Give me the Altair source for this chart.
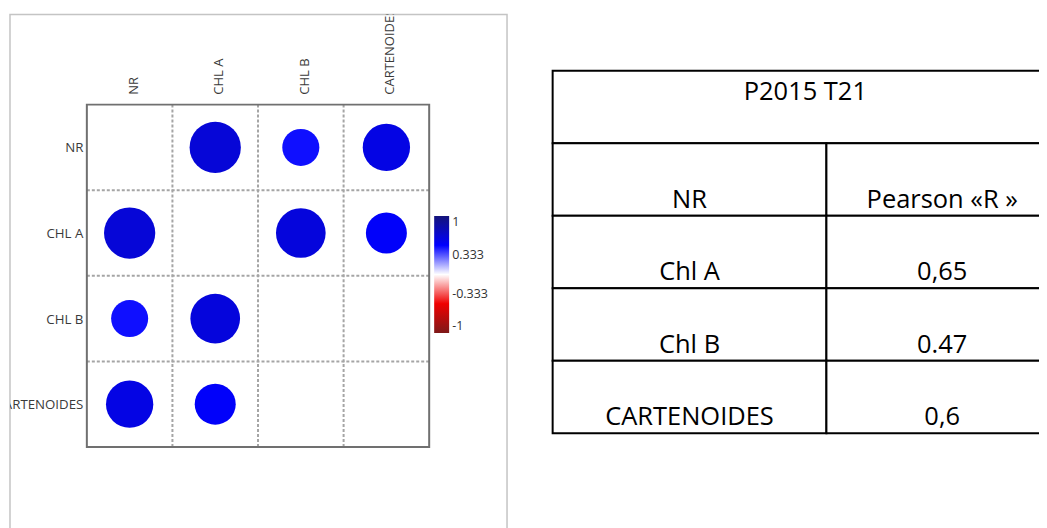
import altair as alt
import pandas as pd

# ---------------- data ----------------
variables = ["NR", "CHL A", "CHL B", "CARTENOIDES"]
corr_rows = [
    [None, 0.65, 0.47, 0.60],
    [0.65, None, 0.63, 0.52],
    [0.47, 0.63, None, None],
    [0.60, 0.52, None, None],
]
legend_values = [1, 0.333, -0.333, -1]

table_title = "P2015 T21"
table_header = ["NR", "Pearson «R »"]
table_vars = ["Chl A", "Chl B", "CARTENOIDES"]
table_r = ["0,65", "0.47", "0,6"]

# ---------------- layout constants ----------------
FONT = "Open Sans"
n = len(variables)
W_L, H_L = 498, 522
CELL = 85.75
GX, GY = 77, 90.3
x_scale = alt.Scale(domain=[-GX / CELL, (W_L - GX) / CELL], nice=False, zero=False)
y_scale = alt.Scale(domain=[-GY / CELL, (H_L - GY) / CELL], nice=False, zero=False, reverse=True)

W_T, H_T = 492, 522
ROW_H = 72.65
COL_W = 274.3
TX, TY = 4.7, 56.3
col_edges = [0, 1, 1.846]
xt_scale = alt.Scale(domain=[-TX / COL_W, (W_T - TX) / COL_W], nice=False, zero=False)
yt_scale = alt.Scale(domain=[-TY / ROW_H, (H_T - TY) / ROW_H], nice=False, zero=False, reverse=True)

# ---------------- correlation plot ----------------
cells = pd.DataFrame(
    [
        {"row": i, "col": j, "rv": variables[i], "cv": variables[j], "r": v}
        for i, vals in enumerate(corr_rows)
        for j, v in enumerate(vals)
        if v is not None
    ]
)
var_df = pd.DataFrame({"idx": list(range(n)), "name": variables})
edge_df = pd.DataFrame({"k": list(range(1, n)), "lo": 0, "hi": n})
frame_df = pd.DataFrame({"lo": [0], "hi": [n]})

def X(f):
    return alt.X(f, type="quantitative", scale=x_scale, axis=None)

def Y(f):
    return alt.Y(f, type="quantitative", scale=y_scale, axis=None)

vlines = alt.Chart(edge_df).mark_rule(color="#A5A5A5", strokeWidth=2, strokeDash=[3, 2]).encode(
    x=X("k"), y=Y("lo"), y2="hi"
)
hlines = alt.Chart(edge_df).mark_rule(color="#A5A5A5", strokeWidth=2, strokeDash=[3, 2]).encode(
    y=Y("k"), x=X("lo"), x2="hi"
)
frame = alt.Chart(frame_df).mark_rect(fill="transparent", stroke="#707070", strokeWidth=2).encode(
    x=X("lo"), x2="hi", y=Y("lo"), y2="hi"
)

circles = (
    alt.Chart(cells)
    .transform_calculate(cx="datum.col + 0.5", cy="datum.row + 0.5", ar="abs(datum.r)")
    .mark_circle(opacity=1)
    .encode(
        x=X("cx"),
        y=Y("cy"),
        size=alt.Size("ar:Q", scale=alt.Scale(type="pow", exponent=2, domain=[0, 1], range=[0, 79 ** 2]), legend=None),
        color=alt.Color(
            "r:Q",
            scale=alt.Scale(
                domain=[-1, -0.5, 0, 0.5, 1],
                range=["#7E1818", "#F00000", "#FFFFFF", "#0000FF", "#14147A"],
                interpolate="rgb",
            ),
            legend=alt.Legend(
                orient="none",
                legendX=425,
                legendY=202,
                direction="vertical",
                gradientLength=117,
                gradientThickness=15,
                gradientStrokeWidth=0,
                values=legend_values,
                title=None,
                padding=0,
                labelFont=FONT,
                labelFontSize=12.5,
                labelColor="#333333",
                labelOffset=3,
                labelExpr="datum.value < 0 ? '-' + format(-datum.value, '.3~f') : format(datum.value, '.3~f')",
            ),
        ),
    )
)

top_labels = (
    alt.Chart(var_df)
    .transform_calculate(cx="datum.idx + 0.5", top="0")
    .mark_text(angle=270, align="left", baseline="middle", dx=10, dy=4, clip=True,
               font=FONT, fontSize=13, color="#3A3A3A")
    .encode(x=X("cx"), y=Y("top:Q"), text="name:N")
)
left_labels = (
    alt.Chart(var_df)
    .transform_calculate(cy="datum.idx + 0.5", left="0")
    .mark_text(align="right", baseline="middle", dx=-3.5, dy=1, clip=True,
               font=FONT, fontSize=13.3, color="#3A3A3A")
    .encode(x=X("left:Q"), y=Y("cy"), text="name:N")
)

corr_chart = alt.layer(vlines, hlines, frame, circles, top_labels, left_labels).properties(
    width=W_L, height=H_L,
    view=alt.ViewBackground(stroke="#C4C4C4", strokeWidth=1.5, fill="white"),
)

# ---------------- table ----------------
trows = []
trows.append({"x0": col_edges[0], "x1": col_edges[2], "y0": 0, "y1": 1})
body = [table_header] + [[a, b] for a, b in zip(table_vars, table_r)]
btext = []
for r, pair in enumerate(body, start=1):
    for c, txt in enumerate(pair):
        trows.append({"x0": col_edges[c], "x1": col_edges[c + 1], "y0": r, "y1": r + 1})
        btext.append({"x0": col_edges[c], "x1": col_edges[c + 1], "y1": r + 1, "t": txt})
tcells = pd.DataFrame(trows)
tbody = pd.DataFrame(btext)
ttitle = pd.DataFrame({"x0": [col_edges[0]], "x1": [col_edges[2]], "y0": [0], "t": [table_title]})

def XT(f):
    return alt.X(f, type="quantitative", scale=xt_scale, axis=None)

def YT(f):
    return alt.Y(f, type="quantitative", scale=yt_scale, axis=None)

t_rects = alt.Chart(tcells).mark_rect(fill="white", stroke="black", strokeWidth=2, clip=True).encode(
    x=XT("x0"), x2="x1", y=YT("y0"), y2="y1"
)
t_title = (
    alt.Chart(ttitle)
    .transform_calculate(xc="(datum.x0 + datum.x1) / 2")
    .mark_text(align="center", baseline="alphabetic", dy=29, font=FONT, fontSize=25.5, color="black", clip=True)
    .encode(x=XT("xc"), y=YT("y0"), text="t:N")
)
t_body = (
    alt.Chart(tbody)
    .transform_calculate(xc="(datum.x0 + datum.x1) / 2")
    .mark_text(align="center", baseline="alphabetic", dy=-8, font=FONT, fontSize=25.5, color="black", clip=True)
    .encode(x=XT("xc"), y=YT("y1"), text="t:N")
)
table_chart = alt.layer(t_rects, t_title, t_body).properties(
    width=W_T, height=H_T,
    view=alt.ViewBackground(stroke=None, fill="white"),
)

chart = (
    alt.hconcat(corr_chart, table_chart, spacing=40)
    .properties(padding={"left": 1, "top": 5, "right": 0, "bottom": 0})
    .configure(background="white")
)

chart.save("out.html", embed_options={"renderer": "svg", "actions": False})
